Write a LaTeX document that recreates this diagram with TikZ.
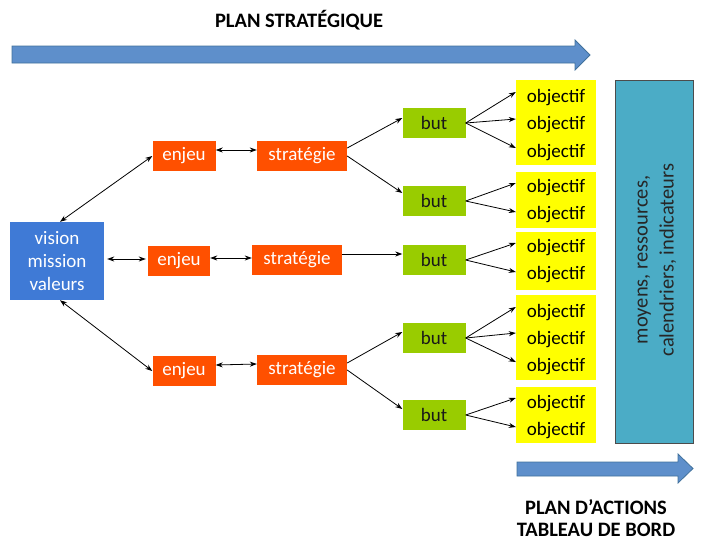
\documentclass[tikz,border=0pt]{standalone}
\usepackage{fontspec}
\setmainfont{Carlito}
\usetikzlibrary{arrows.meta}
\definecolor{visblue}{HTML}{3F7AD6}
\definecolor{enjorange}{HTML}{FF5000}
\definecolor{butgreen}{HTML}{99CC00}
\definecolor{objyellow}{HTML}{FFFF00}
\definecolor{tealbox}{HTML}{4BACC6}
\definecolor{arrblue}{HTML}{5E8FCB}
\definecolor{arrborder}{HTML}{41719C}
\begin{document}
\begin{tikzpicture}[x=1pt,y=-1pt,
 box/.style={inner sep=0pt, minimum height=30pt, font=\fontsize{19}{22}\selectfont},
 enjeubox/.style={box, fill=enjorange, text=white, minimum width=63pt},
 stratbox/.style={box, fill=enjorange, text=white, minimum width=90pt},
 butbox/.style={box, fill=butgreen, text=black!90, minimum width=63pt},
 objgroup/.style={fill=objyellow, inner sep=0pt, minimum width=80pt},
 objtext/.style={inner sep=0pt, minimum width=80pt, font=\fontsize{19}{22}\selectfont},
 link/.style={line width=0.8pt, -{Stealth[length=7pt,width=5pt]}},
 dlink/.style={line width=0.8pt, {Stealth[length=7pt,width=5pt]}-{Stealth[length=7pt,width=5pt]}},
 bigarrow/.style={fill=arrblue, draw=arrborder, line width=0.8pt},
 heading/.style={font=\bfseries\fontsize{20.5}{25}\selectfont, align=center}
]
\useasboundingbox (0,0) rectangle (708,552);

% headings and big arrows
\node[heading] (title) at (299,20) {PLAN STRATÉGIQUE};
\draw[bigarrow] (12,46) -- (575,46) -- (575,40) -- (590,55) -- (575,70) -- (575,63) -- (12,63) -- cycle;
\draw[bigarrow] (517,462) -- (678,462) -- (678,454) -- (693,468.5) -- (678,483) -- (678,476) -- (517,476) -- cycle;
\node[heading, font=\bfseries\fontsize{20.5}{22}\selectfont] (plan) at (596,518) {PLAN D’ACTIONS\\TABLEAU DE BORD};

% vision
\node[fill=visblue, text=white, minimum width=94pt, minimum height=78pt, inner sep=0pt,
      align=center, font=\fontsize{19}{23}\selectfont] (vis) at (57,261) {vision\\mission\\valeurs};

% enjeux, strategies
\node[enjeubox] (e1) at (184,156) {enjeu};
\node[stratbox] (s1) at (302,156) {stratégie};
\node[enjeubox, minimum width=62pt] (e2) at (179,261) {enjeu};
\node[stratbox] (s2) at (297,260) {stratégie};
\node[enjeubox] (e3) at (184,371) {enjeu};
\node[stratbox] (s3) at (302,370) {stratégie};

% buts
\node[butbox] (b1) at (434,123) {but};
\node[butbox] (b2) at (434,201) {but};
\node[butbox] (b3) at (434,260) {but};
\node[butbox] (b4) at (434,338) {but};
\node[butbox] (b5) at (434,415) {but};

% objectif groups
\node[objgroup, minimum height=85pt] (g1) at (556,122.5) {};
\node[objgroup, minimum height=56pt] (g2) at (556,200) {};
\node[objgroup, minimum height=58pt] (g3) at (556,261) {};
\node[objgroup, minimum height=85pt] (g4) at (556,337.5) {};
\node[objgroup, minimum height=56pt] (g5) at (556,415) {};

\node[objtext] (o11) at (556,98) {objectif};
\node[objtext] (o12) at (556,125) {objectif};
\node[objtext] (o13) at (556,153) {objectif};
\node[objtext] (o21) at (556,188) {objectif};
\node[objtext] (o22) at (556,215) {objectif};
\node[objtext] (o31) at (556,248) {objectif};
\node[objtext] (o32) at (556,275) {objectif};
\node[objtext] (o41) at (556,313) {objectif};
\node[objtext] (o42) at (556,340) {objectif};
\node[objtext] (o43) at (556,367) {objectif};
\node[objtext] (o51) at (556,404) {objectif};
\node[objtext] (o52) at (556,431) {objectif};

% means box
\node[fill=tealbox, draw=black!70, line width=0.6pt, minimum width=78pt, minimum height=363pt, inner sep=0pt] (mr) at (654,261.5) {};
\node[rotate=90, align=center, text=black!85, font=\fontsize{20.5}{26}\selectfont] (mrt) at (657,260) {moyens, ressources,\\calendriers, indicateurs};

% connectors
\draw[dlink] ([xshift=3pt]vis.north) -- (e1.west);
\draw[dlink] ([xshift=3pt]vis.south) -- (e3.west);
\draw[dlink, shorten <=3pt, shorten >=2pt] ([yshift=2pt]vis.east) -- ([yshift=2pt]e2.west);
\draw[dlink] ([yshift=6pt]e1.east) -- ([yshift=6pt]s1.west);
\draw[dlink] ([yshift=3pt]e2.east) -- ([yshift=3pt]e2.east -| s2.west);
\draw[dlink] ([yshift=6pt]e3.east) -- ([yshift=6pt]s3.west);

\draw[link] ([yshift=8pt]s1.east) -- ([yshift=5pt]b1.west);
\draw[link] (s1.east) -- ([yshift=8pt]b2.west);
\draw[link] ([yshift=6pt]s2.east) -- ([yshift=6pt]s2.east -| b3.west);
\draw[link] ([yshift=7pt]s3.east) -- ([yshift=6pt]b4.west);
\draw[link] (s3.east) -- ([yshift=6pt]b5.west);

\draw[link] (b1.east) -- ([yshift=6pt]o11.west);
\draw[link] (b1.east) -- ([yshift=6pt]o12.west);
\draw[link] (b1.east) -- ([yshift=5pt]o13.west);
\draw[link] (b2.east) -- ([yshift=5pt]o21.west);
\draw[link] (b2.east) -- ([yshift=3pt]o22.west);
\draw[link] (b3.east) -- ([yshift=5pt]o31.west);
\draw[link] (b3.east) -- ([yshift=3pt]o32.west);
\draw[link] (b4.east) -- ([yshift=6pt]o41.west);
\draw[link] (b4.east) -- ([yshift=7pt]o42.west);
\draw[link] (b4.east) -- ([yshift=5pt]o43.west);
\draw[link] (b5.east) -- ([yshift=6pt]o51.west);
\draw[link] (b5.east) -- ([yshift=4pt]o52.west);
\end{tikzpicture}
\end{document}
